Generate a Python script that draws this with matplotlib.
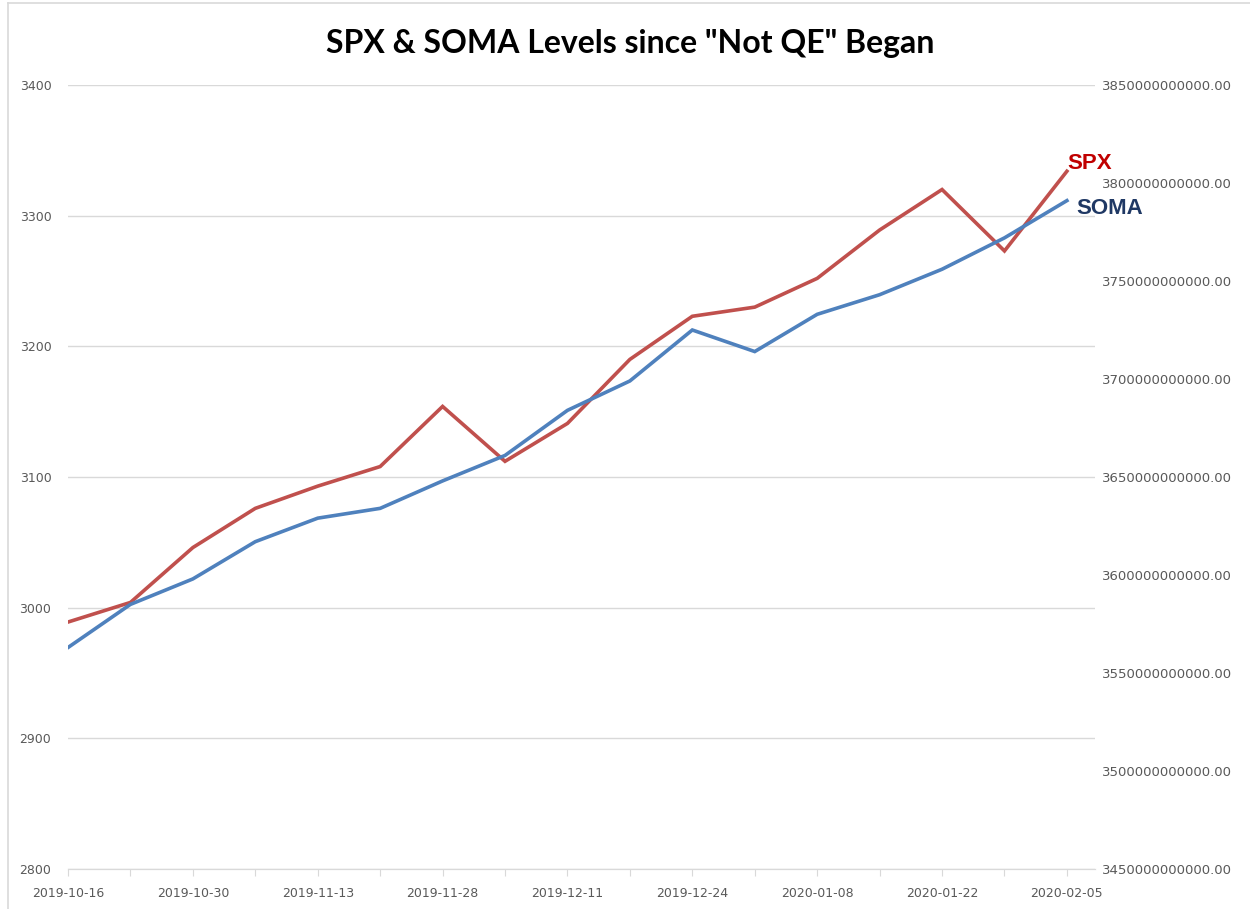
import matplotlib.pyplot as plt
from matplotlib.lines import Line2D
from matplotlib.ticker import FuncFormatter

dates = ["2019-10-16", "2019-10-23", "2019-10-30", "2019-11-06", "2019-11-13",
         "2019-11-20", "2019-11-28", "2019-12-04", "2019-12-11", "2019-12-18",
         "2019-12-24", "2019-12-31", "2020-01-08", "2020-01-15", "2020-01-22",
         "2020-01-29", "2020-02-05"]
spx = [2989, 3004, 3046, 3076, 3093, 3108, 3154, 3112, 3141, 3190,
       3223, 3230, 3252, 3289, 3320, 3273, 3334]
# SOMA in Milliarden USD
soma_bn = [3563, 3585, 3598, 3617, 3629, 3634, 3648, 3661, 3684, 3699,
           3725, 3714, 3733, 3743, 3756, 3772, 3791]
soma = [v * 1e9 for v in soma_bn]

left_ticks = [2800, 2900, 3000, 3100, 3200, 3300, 3400]
right_ticks = [v * 1e9 for v in range(3450, 3851, 50)]

grey = "#595959"
x = list(range(len(dates)))

fig = plt.figure(figsize=(12.5, 9.09), dpi=100)
ax = fig.add_axes([0.0544, 0.044, 0.8216, 0.8625])
ax2 = ax.twinx()

ax.plot(x, spx, color="#C0504D", lw=2.6, solid_joinstyle="miter", zorder=3)
ax2.plot(x, soma, color="#4F81BD", lw=2.6, solid_joinstyle="miter", zorder=3)

ax.set_xlim(0, 16.45)
ax.set_ylim(2800, 3400)
ax2.set_ylim(3450e9, 3850e9)

ax.set_yticks(left_ticks)
ax.yaxis.grid(True, color="#D9D9D9", lw=1)
ax.set_axisbelow(True)
ax.tick_params(axis="y", length=0, pad=12, labelsize=9, labelcolor=grey)

ax.set_xticks(x)
ax.set_xticklabels([d if i % 2 == 0 else "" for i, d in enumerate(dates)])
ax.tick_params(axis="x", length=5, color="#D9D9D9", labelsize=9,
               labelcolor=grey, pad=8)

ax2.set_yticks(right_ticks)
ax2.yaxis.set_major_formatter(FuncFormatter(lambda v, p: f"{v:.2f}"))
ax2.tick_params(axis="y", length=0, pad=5, labelsize=9.5, labelcolor=grey)

for a in (ax, ax2):
    for s in ("top", "left", "right"):
        a.spines[s].set_visible(False)
    a.spines["bottom"].set_color("#D9D9D9")

# Beschriftung am Linienende
ax.text(16.0, spx[-1] - 2, "SPX", color="#C00000", fontsize=16,
        fontweight="bold", family="Liberation Sans", ha="left", va="bottom",
        clip_on=False)
ax2.text(16.15, soma[-1] - 4e9, "SOMA", color="#1F3864", fontsize=16,
         fontweight="bold", family="Liberation Sans", ha="left", va="center",
         clip_on=False)

fig.text(0.504, 0.952, 'SPX & SOMA Levels since "Not QE" Began',
         ha="center", va="center", fontsize=23, family="Lato",
         fontweight="bold", color="black")

# Rahmen des Diagramms
fig.add_artist(Line2D([0.0064, 0.0064], [0, 0.9967], color="#D9D9D9",
                      lw=1.2, transform=fig.transFigure))
fig.add_artist(Line2D([0.0064, 1], [0.9967, 0.9967], color="#D9D9D9",
                      lw=1.2, transform=fig.transFigure))

plt.savefig("out.png", dpi=100)
